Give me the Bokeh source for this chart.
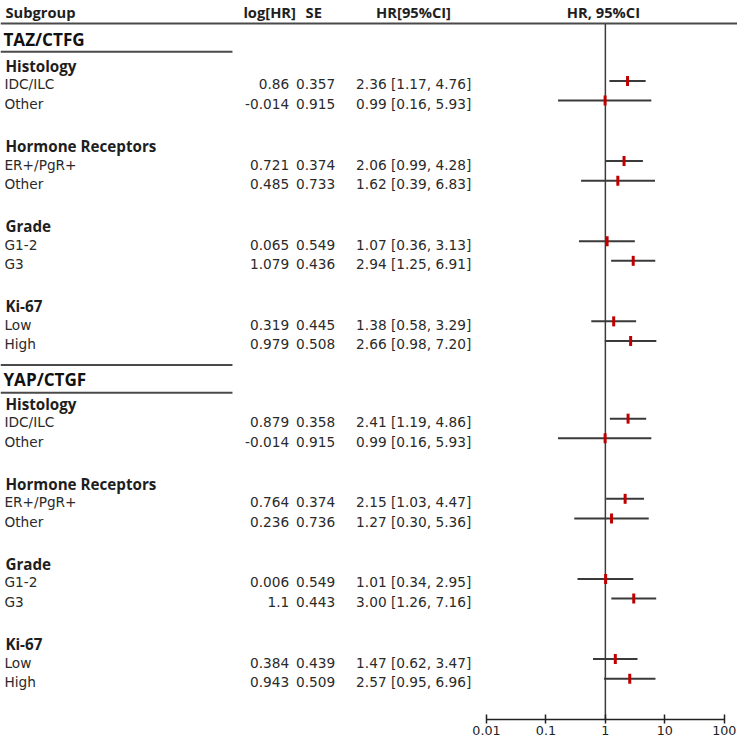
import math
from bokeh.plotting import figure
from bokeh.models import Range1d, FixedTicker, CustomJSTickFormatter, ColumnDataSource
from bokeh.core.properties import value
from bokeh.embed import file_html
from bokeh.resources import INLINE

# ---------------- data ----------------
blocks = ["TAZ/CTFG", "YAP/CTGF"]
groups = ["Histology", "Hormone Receptors", "Grade", "Ki-67"]
subgroups = [["IDC/ILC", "Other"], ["ER+/PgR+", "Other"], ["G1-2", "G3"], ["Low", "High"]]

taz_loghr = [0.86, -0.014, 0.721, 0.485, 0.065, 1.079, 0.319, 0.979]
taz_se = [0.357, 0.915, 0.374, 0.733, 0.549, 0.436, 0.445, 0.508]
taz_hr = [2.36, 0.99, 2.06, 1.62, 1.07, 2.94, 1.38, 2.66]
taz_lo = [1.17, 0.16, 0.99, 0.39, 0.36, 1.25, 0.58, 0.98]
taz_hi = [4.76, 5.93, 4.28, 6.83, 3.13, 6.91, 3.29, 7.20]

yap_loghr = [0.879, -0.014, 0.764, 0.236, 0.006, 1.1, 0.384, 0.943]
yap_se = [0.358, 0.915, 0.374, 0.736, 0.549, 0.443, 0.439, 0.509]
yap_hr = [2.41, 0.99, 2.15, 1.27, 1.01, 3.00, 1.47, 2.57]
yap_lo = [1.19, 0.16, 1.03, 0.30, 0.34, 1.26, 0.62, 0.95]
yap_hi = [4.86, 5.93, 4.47, 5.36, 2.95, 7.16, 3.47, 6.96]

hr_ticks = [0.01, 0.1, 1, 10, 100]
headers = ["Subgroup", "log[HR]", "SE", "HR[95%CI]", "HR, 95%CI"]

# ---------------- layout (reference pixel units) ----------------
REF = 753
W = 737
S = W / REF
ONE_PX = 618.0      # x pixel of HR = 1
DECADE = 60.75      # pixels per decade


def xpx(px):
    return 10 ** ((px - ONE_PX) / DECADE)


def fs(v):
    return f"{v * S:.1f}px"


REG = value("DejaVu Sans")
BOLD = value("Open Sans")
TXT = "#1e1e1e"

p = figure(width=W, height=W, output_backend="svg", toolbar_location=None,
           x_axis_type="log", y_axis_location=None,
           x_range=Range1d(xpx(0), xpx(REF)), y_range=Range1d(733, 0),
           min_border=0, min_border_left=0, min_border_right=0, min_border_top=0)
p.outline_line_color = None
p.xgrid.visible = False
p.ygrid.visible = False
p.background_fill_color = "white"

block_title_y = [39.3, 386.7]
group_start_y = [66.7, 411.0]
GROUP_STEP = 81.7
ROW_OFF = [18.8, 38.8]

series = [
    (taz_loghr, taz_se, taz_hr, taz_lo, taz_hi),
    (yap_loghr, yap_se, yap_hr, yap_lo, yap_hi),
]

lab_x, lab_y, lab_t = [], [], []
g_x, g_y, g_t = [], [], []
row_y, loghr_t, se_t, hrci_t = [], [], [], []
hr_all, lo_all, hi_all = [], [], []

for b, (lg, se, hr, lo, hi) in enumerate(series):
    k = 0
    for gi, g in enumerate(groups):
        gy = group_start_y[b] + gi * GROUP_STEP
        g_x.append(xpx(5)); g_y.append(gy); g_t.append(g)
        for ri, sname in enumerate(subgroups[gi]):
            y = gy + ROW_OFF[ri]
            lab_x.append(xpx(4)); lab_y.append(y); lab_t.append(sname)
            row_y.append(y)
            loghr_t.append(str(lg[k]))
            se_t.append(str(se[k]))
            hrci_t.append(f"{hr[k]:.2f} [{lo[k]:.2f}, {hi[k]:.2f}]")
            hr_all.append(hr[k]); lo_all.append(lo[k]); hi_all.append(hi[k])
            k += 1

# header texts
p.text(x=[xpx(5)], y=[11.5], text=[headers[0]], text_font=BOLD, text_font_style="bold",
       text_font_size=fs(15), text_baseline="middle", text_align="left", text_color=TXT)
p.text(x=[xpx(275), xpx(320), xpx(422), xpx(616)], y=[11.5] * 4, text=headers[1:],
       text_font=BOLD, text_font_style="bold", text_font_size=fs(15),
       text_baseline="middle", text_align="center", text_color=TXT)

# block titles
p.text(x=[xpx(3)] * 2, y=block_title_y, text=blocks, text_font=BOLD, text_font_style="bold",
       text_font_size=fs(17.5), text_baseline="middle", text_align="left", text_color="#111111")

# group labels
p.text(x=g_x, y=g_y, text=g_t, text_font=BOLD, text_font_style="bold",
       text_font_size=fs(15.5), text_baseline="middle", text_align="left", text_color=TXT)

# subgroup rows
src = ColumnDataSource(dict(
    lx=lab_x, y=row_y, lab=lab_t, lg=loghr_t, se=se_t, ci=hrci_t,
    cy=[v - 3.5 for v in row_y], hr=hr_all, lo=lo_all, hi=hi_all,
    xlg=[xpx(295)] * len(row_y), xse=[xpx(342)] * len(row_y), xci=[xpx(481)] * len(row_y),
))
for col, xcol, align in [("lab", "lx", "left"), ("lg", "xlg", "right"),
                         ("se", "xse", "right"), ("ci", "xci", "right")]:
    p.text(x=xcol, y="y", text=col, source=src, text_font=REG, text_font_size=fs(14),
           text_baseline="middle", text_align=align, text_color="#2a2a2a")

# horizontal rules
p.segment(x0=[xpx(0)], y0=[23.5], x1=[xpx(REF)], y1=[23.5], line_color="#4a4a4a", line_width=2)
p.segment(x0=[xpx(0)] * 3, y0=[52.3, 371.7, 400.0], x1=[xpx(237)] * 3, y1=[52.3, 371.7, 400.0],
          line_color="#4a4a4a", line_width=2)

# reference line at HR = 1
p.segment(x0=[1], y0=[24], x1=[1], y1=[733], line_color="#3c3c3c", line_width=1.5)

# confidence intervals and point estimates
p.segment(x0="lo", y0="cy", x1="hi", y1="cy", source=src, line_color="#3a3a3a", line_width=2)
p.scatter(x="hr", y="cy", source=src, marker="dash", angle=math.pi / 2, size=10,
          line_width=3, line_color="#c00000", fill_color="#c00000")

# axis
ax = p.xaxis[0]
ax.ticker = FixedTicker(ticks=hr_ticks, minor_ticks=[])
ax.formatter = CustomJSTickFormatter(code="return tick.toString();")
ax.bounds = (hr_ticks[0], hr_ticks[-1])
ax.axis_line_color = "#222222"
ax.axis_line_width = 1.5
ax.major_tick_line_color = "#222222"
ax.major_tick_line_width = 1.5
ax.major_tick_in = 5
ax.major_tick_out = 4
ax.minor_tick_line_color = None
ax.major_label_standoff = 2
ax.major_label_text_font = "DejaVu Sans"
ax.major_label_text_font_size = fs(13)
ax.major_label_text_color = "#222222"

open("out.html", "w").write(file_html(p, INLINE))
